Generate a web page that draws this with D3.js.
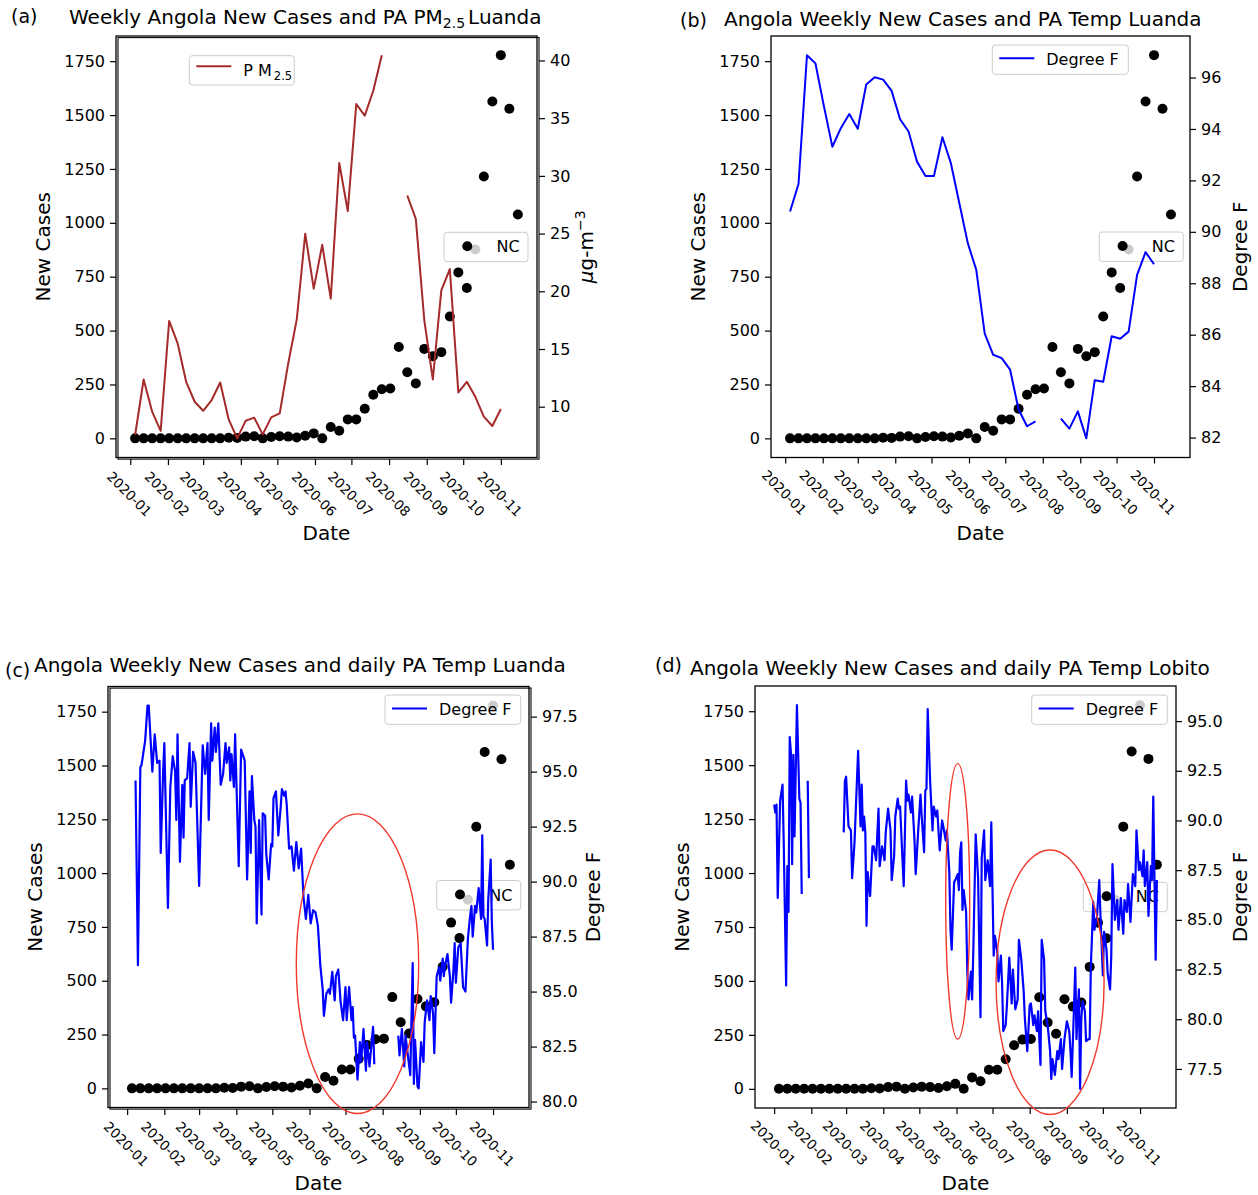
<!DOCTYPE html>
<html>
<head>
<meta charset="utf-8">
<script src="https://cdn.jsdelivr.net/npm/d3@7/dist/d3.min.js"></script>
<style>
body { margin: 0; background: #fff; }
svg text { font-family: "DejaVu Sans", sans-serif; fill: #000; }
</style>
</head>
<body>
<svg id="chart" width="1258" height="1195"></svg>
<script>
// weekly Angola new cases, one value per week (Sundays 2020-01-05 .. 2020-11-15)
var newCases = [0, 0, 0, 0, 0, 0, 0, 0, 0, 0, 0, 3, 2, 8, 10, 0, 6, 10, 8, 4, 12, 23, 0,
    53, 35, 88, 88, 137, 202, 228, 231, 424, 307, 255, 415, 381, 400, 565, 770, 698,
    876, 1215, 1563, 1778, 1529, 1039];

// weekly PurpleAir PM2.5 Luanda (ug/m3), same weeks, null = no reading
var pm25Luanda = [7.55, 12.36, 9.57, 7.9, 17.43, 15.48, 12.16, 10.43, 9.65, 10.58, 12.1,
    8.9, 7.26, 8.79, 9.05, 7.6, 9.08, 9.42, 13.75, 17.55, 24.99, 20.23, 24.03, 19.37,
    31.12, 26.95, 36.22, 35.22, 37.38, 40.46, null, null, 28.3, 26.28, 17.49, 12.36,
    20.09, 21.93, 11.24, 12.16, 10.86, 9.14, 8.33, 9.8, null, null];

// weekly PurpleAir temperature Luanda (degree F)
var tempWeeklyLuanda = [90.79, 91.86, 96.87, 96.55, 94.89, 93.31, 94.03, 94.58, 94.01,
    95.73, 96.01, 95.92, 95.48, 94.38, 93.9, 92.73, 92.17, 92.17, 93.68, 92.67, 91.11,
    89.56, 88.52, 86.04, 85.22, 85.09, 84.64, 83.09, 82.44, 82.63, null, null, 82.74,
    82.35, 83.02, 81.97, 84.23, 84.17, 85.94, 85.84, 86.12, 88.33, 89.21, 88.74, null, null];

// daily PurpleAir temperature: [day counted from 2020-01-01, degree F], null = gap
var tempDailyLuanda = [[7, 94.6], [9, 86.2], [11, 95.2], [12, 95.3], [15, 96.4], [17, 98.0],
    [18, 98.0], [21, 95.0], [23, 96.7], [25, 95.4], [27, 95.5], [28, 91.3], [30, 95.0],
    [31, 96.3], [34, 88.8], [36, 94.3], [38, 95.7], [40, 95.0], [41, 92.8], [42, 96.7],
    [44, 90.9], [46, 94.4], [47, 92.0], [48, 94.6], [50, 94.7], [52, 96.3], [53, 93.4],
    [55, 95.9], [57, 95.4], [60, 89.8], [63, 96.2], [65, 94.9], [67, 96.3], [68, 92.8],
    [70, 97.2], [71, 95.5], [73, 97.0], [74, 95.9], [76, 97.2], [78, 94.4], [80, 94.9],
    [82, 96.3], [83, 95.4], [85, 96.1], [86, 94.6], [87, 95.8], [89, 94.3], [90, 96.7],
    [93, 90.7], [95, 96.0], [98, 95.5], [100, 90.1], [102, 94.1], [103, 91.3], [104, 94.8],
    [106, 92.8], [107, 92.5], [108, 88.1], [110, 92.8], [112, 88.5], [113, 93.1], [115, 93.0],
    [116, 91.2], [118, 90.1], [120, 91.7], [121, 91.6], [122, 93.8], [124, 94.1], [126, 92.1],
    [128, 93.4], [129, 94.2], [131, 93.9], [132, 94.1], [133, 93.5], [135, 91.5], [137, 91.6],
    [139, 90.5], [141, 91.8], [143, 90.6], [145, 91.5], [147, 89.3], [149, 88.3], [151, 89.4],
    [153, 88.1], [155, 88.7], [157, 88.6], [159, 88.0], [161, 86.2], [163, 85.1], [164, 83.9],
    [166, 84.9], [168, 85.1], [169, 84.9], [171, 85.9], [173, 84.6], [174, 85.7], [176, 86.0],
    [178, 84.5], [180, 83.7], [182, 85.2], [183, 83.7], [185, 85.2], [187, 83.7], [188, 84.3],
    [189, 82.9], [190, 83.0], [192, 81.0], [194, 82.7], [195, 81.8], [197, 83.3], [199, 81.4],
    [200, 82.7], [202, 81.6], [205, 83.4], [206, 81.7], [215, null], [226, 83.0], [227, 82.1],
    [229, 83.3], [231, 81.6], [232, 83.0], [234, 82.1], [236, 81.2], [238, 86.3], [239, 80.8],
    [240, 82.8], [242, 80.7], [243, 80.6], [245, 82.7], [247, 81.8], [248, 83.6], [250, 84.6],
    [252, 83.7], [253, 84.8], [255, 84.0], [256, 82.2], [258, 85.7], [260, 86.1], [261, 85.5],
    [263, 86.5], [264, 85.7], [265, 86.2], [267, 86.7], [269, 85.7], [270, 84.5], [272, 86.0],
    [273, 87.2], [274, 85.4], [276, 87.0], [278, 87.2], [280, 85.2], [282, 85.0], [284, 87.4],
    [286, 88.5], [287, 88.9], [288, 87.5], [290, 88.9], [291, 88.6], [293, 89.7], [295, 88.3],
    [296, 92.1], [297, 88.4], [298, 88.3], [300, 87.1], [301, 89.2], [303, 91.0], [304, 88.1],
    [305, 86.9]];

var tempDailyLobito = [[0, 90.8], [1, 90.4], [2, 90.8], [3, 86.1], [5, 91.0], [7, 91.8],
    [8, 88.9], [10, 81.7], [11, 87.7], [12, 85.4], [13, 94.2], [14, 93.4], [15, 87.8],
    [16, 93.3], [17, 89.2], [19, 95.8], [21, 91.1], [22, 90.9], [23, 86.3], [24, null],
    [28, 92.0], [29, 87.1], [30, null], [58, 89.4], [59, 92.0], [60, 92.2], [62, 89.7],
    [64, 89.5], [65, 87.1], [67, 88.9], [69, 92.0], [70, 93.5], [72, 89.7], [73, 91.8],
    [74, 89.5], [75, 90.2], [76, 89.4], [77, 84.7], [78, 87.4], [79, 86.7], [80, 86.2],
    [82, 88.7], [83, 88.7], [85, 88.0], [87, 90.6], [88, 87.7], [90, 88.7], [92, 88.0],
    [93, 89.4], [95, 90.6], [97, 89.5], [98, 87.0], [100, 88.2], [101, 90.2], [103, 91.1],
    [104, 90.6], [105, 90.7], [107, 88.0], [108, 86.7], [110, 92.0], [111, 91.0], [112, 91.3],
    [114, 90.4], [115, 91.2], [117, 89.0], [118, 87.3], [120, 89.4], [122, 91.3], [123, 90.2],
    [125, 88.4], [126, 91.5], [127, 91.6], [128, 95.6], [130, 92.0], [132, 89.5], [133, 90.7],
    [135, 90.2], [136, 90.5], [138, 88.5], [140, 90.0], [141, 89.7], [143, 89.0], [144, 89.5],
    [146, 87.4], [147, 84.5], [148, 83.5], [150, 86.9], [151, 87.0], [153, 87.3], [154, 86.5],
    [155, 88.4], [156, 88.9], [157, 85.5], [158, 86.5], [160, 85.4], [161, 82.4], [162, 81.0],
    [164, 82.4], [165, 81.0], [166, 83.4], [168, 89.3], [170, 87.1], [172, 80.1], [173, 88.1],
    [175, 89.5], [176, 87.0], [178, 88.0], [180, 86.7], [181, 89.9], [183, 83.2], [184, 84.2],
    [186, 83.4], [187, 81.9], [189, 83.2], [190, 81.8], [191, 79.4], [193, 79.7], [194, 80.7],
    [196, 83.1], [198, 80.8], [199, 82.5], [201, 80.5], [203, 81.0], [204, 84.0], [206, 83.0],
    [208, 81.4], [209, 80.0], [211, 78.4], [213, 80.7], [214, 80.8], [216, 79.7], [217, 80.2],
    [219, 79.4], [220, 80.4], [222, 77.7], [223, 84.0], [225, 83.0], [226, 80.4], [228, 79.7],
    [230, 78.4], [231, 77.0], [232, 78.0], [234, 77.2], [236, 78.4], [237, 78.0], [239, 79.0],
    [240, 77.5], [242, 79.0], [244, 79.9], [246, 79.4], [247, 78.4], [248, 77.1], [250, 80.7],
    [251, 82.6], [252, 79.0], [254, 81.5], [255, 76.5], [256, 80.0], [257, 80.9], [259, 80.4],
    [260, 78.9], [262, 79.0], [263, 79.0], [264, 82.7], [266, 85.9], [267, 84.5], [269, 85.1],
    [271, 87.0], [272, 85.2], [274, 82.2], [275, 84.4], [277, 83.5], [278, 82.3], [280, 81.5],
    [281, 83.2], [282, 87.8], [284, 85.0], [286, 86.0], [287, 84.5], [289, 86.1], [291, 84.3],
    [292, 86.0], [294, 85.4], [295, 86.8], [297, 84.9], [299, 87.3], [301, 86.7], [302, 89.5],
    [304, 87.5], [305, 87.9], [307, 87.2], [308, 88.5], [309, 86.7], [311, 87.9], [312, 85.2],
    [314, 87.7], [315, 87.0], [316, 91.2], [318, 83.0], [319, 87.0]];

var monthTicks = ["2020-01", "2020-02", "2020-03", "2020-04", "2020-05", "2020-06",
    "2020-07", "2020-08", "2020-09", "2020-10", "2020-11"];
var caseTicks = [0, 250, 500, 750, 1000, 1250, 1500, 1750];
var pmTicks = [10, 15, 20, 25, 30, 35, 40];
var tempTicksB = [82, 84, 86, 88, 90, 92, 94, 96];
var tempTicksC = [80, 82.5, 85, 87.5, 90, 92.5, 95, 97.5];
var tempTicksD = [77.5, 80, 82.5, 85, 87.5, 90, 92.5, 95];

// red circled periods: [center day, center cases, half width days, half height cases]
var ringsC = [[192, 579, 51, 696]];
var ringsD = [[153, 869, 10, 638], [230, 494, 45, 613]];

var svg = d3.select('#chart');
var jan1 = new Date(2020, 0, 1);
var weeks = d3.timeWeek.range(new Date(2020, 0, 5), new Date(2020, 10, 16));
var dailySpan = [jan1, new Date(2020, 10, 15)];
var parseMonth = d3.timeParse('%Y-%m');

function pad(ext) {
    var a = +ext[0], b = +ext[1], m = (b - a) * 0.05;
    return [a - m, b + m];
}

function weekly(vals) {
    return weeks.map(function(d, i) { return [d, vals[i]]; });
}

function daily(pairs) {
    return pairs.map(function(p) { return [d3.timeDay.offset(jan1, p[0]), p[1]]; });
}

function legendBox(g, x, y, w, h) {
    g.append('rect')
        .attr('x', x).attr('y', y).attr('width', w).attr('height', h)
        .attr('rx', 3)
        .attr('fill', '#fff').attr('fill-opacity', 0.8)
        .attr('stroke', '#cccccc').attr('stroke-width', 1);
}

function drawPanel(p) {
    var g = svg.append('g');
    var x = d3.scaleTime()
        .domain(pad(p.xSpan).map(function(t) { return new Date(t); }))
        .range([p.left, p.right]);
    var yL = d3.scaleLinear().domain(pad(d3.extent(newCases))).range([p.bottom, p.top]);
    var yR = d3.scaleLinear()
        .domain(pad(d3.extent(p.series, function(d) { return d[1]; })))
        .range([p.bottom, p.top]);

    // frame (twin axes give a slightly doubled edge on some panels)
    g.append('rect')
        .attr('x', p.left).attr('y', p.top)
        .attr('width', p.right - p.left).attr('height', p.bottom - p.top)
        .attr('fill', 'none').attr('stroke', '#000').attr('stroke-width', 1.3);
    if (p.doubled) {
        g.append('rect')
            .attr('x', p.left + 2).attr('y', p.top + 1.6)
            .attr('width', p.right - p.left).attr('height', p.bottom - p.top)
            .attr('fill', 'none').attr('stroke', '#000').attr('stroke-width', 1.1);
    }

    var xAxis = g.append('g')
        .attr('transform', 'translate(0,' + (p.bottom + (p.doubled ? 1.6 : 0)) + ')')
        .call(d3.axisBottom(x)
            .tickValues(monthTicks.map(parseMonth))
            .tickFormat(d3.timeFormat('%Y-%m'))
            .tickSize(6));
    xAxis.select('.domain').remove();
    xAxis.selectAll('line').attr('stroke-width', 1.2);
    xAxis.selectAll('text')
        .attr('font-size', 13.5).attr('font-family', 'DejaVu Sans')
        .attr('y', 0).attr('dy', '0.35em')
        .attr('text-anchor', 'middle')
        .attr('transform', 'translate(-1.5,35) rotate(45)');

    var leftAxis = g.append('g')
        .attr('transform', 'translate(' + p.left + ',0)')
        .call(d3.axisLeft(yL).tickValues(caseTicks).tickFormat(d3.format('d'))
            .tickSize(6).tickPadding(5));
    leftAxis.select('.domain').remove();
    leftAxis.selectAll('line').attr('stroke-width', 1.2);
    leftAxis.selectAll('text').attr('font-size', 16).attr('font-family', 'DejaVu Sans');

    var rightEdge = p.right + (p.doubled ? 2 : 0);
    var rightAxis = g.append('g')
        .attr('transform', 'translate(' + rightEdge + ',0)')
        .call(d3.axisRight(yR).tickValues(p.rTicks).tickFormat(p.rFormat).tickSize(6).tickPadding(5));
    rightAxis.select('.domain').remove();
    rightAxis.selectAll('line').attr('stroke-width', 1.2);
    rightAxis.selectAll('text').attr('font-size', 16).attr('font-family', 'DejaVu Sans');

    // new cases scatter (first axes)
    g.append('g').selectAll('circle')
        .data(weekly(newCases))
        .enter()
        .append('circle')
        .attr('cx', function(d) { return x(d[0]); })
        .attr('cy', function(d) { return yL(d[1]); })
        .attr('r', 5)
        .attr('fill', '#000');

    var nl = p.ncLegend;
    legendBox(g, p.left + nl[0], p.top + nl[1], 84, 29.4);
    g.append('circle')
        .attr('cx', p.left + nl[0] + 23.3).attr('cy', p.top + nl[1] + 14)
        .attr('r', 5).attr('fill', '#000');
    g.append('text')
        .attr('x', p.left + nl[0] + 52.5).attr('y', p.top + nl[1] + 20)
        .attr('font-size', 16).text('NC');

    // second axes: line series
    var line = d3.line()
        .defined(function(d) { return d[1] != null; })
        .x(function(d) { return x(d[0]); })
        .y(function(d) { return yR(d[1]); });
    g.append('path')
        .datum(p.series)
        .attr('d', line)
        .attr('fill', 'none')
        .attr('stroke', p.color)
        .attr('stroke-width', p.lineWidth)
        .attr('stroke-linejoin', 'round');

    var ll = p.lineLegend;
    legendBox(g, p.left + ll[0], p.top + ll[1], ll[2], 29.3);
    g.append('line')
        .attr('x1', p.left + ll[0] + 7).attr('x2', p.left + ll[0] + 42)
        .attr('y1', p.top + ll[1] + ll[3]).attr('y2', p.top + ll[1] + ll[3])
        .attr('stroke', p.color).attr('stroke-width', 2);
    var lt = g.append('text')
        .attr('x', p.left + ll[0] + 54).attr('y', p.top + ll[1] + 20)
        .attr('font-size', 16);
    p.legendText(lt);

    (p.rings || []).forEach(function(r) {
        var c = d3.timeDay.offset(jan1, r[0]);
        g.append('ellipse')
            .attr('cx', x(c)).attr('cy', yL(r[1]))
            .attr('rx', x(d3.timeDay.offset(c, r[2])) - x(c))
            .attr('ry', yL(0) - yL(r[3]))
            .attr('fill', 'none')
            .attr('stroke', '#f0392b')
            .attr('stroke-width', 1.4);
    });

    // labels
    g.append('text')
        .attr('x', (p.left + p.right) / 2).attr('y', p.bottom + 82)
        .attr('text-anchor', 'middle').attr('font-size', 20).text('Date');
    g.append('text')
        .attr('transform', 'translate(' + (p.left - 66) + ',' + ((p.top + p.bottom) / 2) + ') rotate(-90)')
        .attr('text-anchor', 'middle').attr('font-size', 20).text('New Cases');
    var rl = g.append('text')
        .attr('transform', 'translate(' + (p.right + p.rLabelOff) + ',' + ((p.top + p.bottom) / 2) + ') rotate(-90)')
        .attr('text-anchor', 'middle').attr('font-size', 20);
    p.rLabel(rl);

    g.append('text')
        .attr('x', p.tag[0]).attr('y', p.tag[1])
        .attr('font-size', 19).text(p.tagText);
    var tt = g.append('text')
        .attr('x', p.title[0]).attr('y', p.title[1])
        .attr('font-size', 20);
    p.titleText(tt);
}

var fmt1 = d3.format('.1f');

drawPanel({
    left: 116, right: 537, top: 36, bottom: 457.5, doubled: true,
    xSpan: [weeks[0], weeks[weeks.length - 1]],
    series: weekly(pm25Luanda), color: '#a52a2a', lineWidth: 2,
    rTicks: pmTicks, rFormat: d3.format('d'), rLabelOff: 56,
    ncLegend: [328, 196.3], lineLegend: [73.3, 19.7, 105, 10.5],
    legendText: function(t) {
        t.append('tspan').text('P M');
        t.append('tspan').attr('font-size', 11.5).attr('dy', 4).attr('dx', 2).text('2.5');
    },
    rLabel: function(t) {
        t.append('tspan').attr('font-style', 'italic').text('μ');
        t.append('tspan').text('g-m');
        t.append('tspan').attr('font-size', 14).attr('dy', -8).text('−3');
    },
    tag: [11, 23], tagText: '(a)',
    title: [69, 24],
    titleText: function(t) {
        t.append('tspan').text('Weekly Angola New Cases and PA PM');
        t.append('tspan').attr('font-size', 14).attr('dy', 4).text('2.5');
        t.append('tspan').attr('dy', -4).attr('dx', 3).text('Luanda');
    }
});

drawPanel({
    left: 771, right: 1190, top: 36, bottom: 457.5, doubled: false,
    xSpan: [weeks[0], weeks[weeks.length - 1]],
    series: weekly(tempWeeklyLuanda), color: '#0000ff', lineWidth: 2,
    rTicks: tempTicksB, rFormat: d3.format('d'), rLabelOff: 57,
    ncLegend: [328.3, 196], lineLegend: [221.3, 9, 136, 13.3],
    legendText: function(t) { t.text('Degree F'); },
    rLabel: function(t) { t.text('Degree F'); },
    tag: [680, 27], tagText: '(b)',
    title: [724, 26],
    titleText: function(t) { t.text('Angola Weekly New Cases and PA Temp Luanda'); }
});

drawPanel({
    left: 108, right: 529, top: 686.5, bottom: 1107.5, doubled: true,
    xSpan: dailySpan,
    series: daily(tempDailyLuanda), color: '#0000ff', lineWidth: 2.2,
    rTicks: tempTicksC, rFormat: fmt1, rLabelOff: 71,
    ncLegend: [328.7, 194], lineLegend: [277, 8.5, 135.7, 13.5],
    legendText: function(t) { t.text('Degree F'); },
    rLabel: function(t) { t.text('Degree F'); },
    rings: ringsC,
    tag: [5, 677], tagText: '(c)',
    title: [34, 672],
    titleText: function(t) { t.text('Angola Weekly New Cases and daily PA Temp  Luanda'); }
});

drawPanel({
    left: 755, right: 1176, top: 686, bottom: 1108, doubled: false,
    xSpan: dailySpan,
    series: daily(tempDailyLobito), color: '#0000ff', lineWidth: 2.2,
    rTicks: tempTicksD, rFormat: fmt1, rLabelOff: 71,
    ncLegend: [328.3, 196.3], lineLegend: [276.7, 9, 135.6, 13.5],
    legendText: function(t) { t.text('Degree F'); },
    rLabel: function(t) { t.text('Degree F'); },
    rings: ringsD,
    tag: [655, 672], tagText: '(d)',
    title: [690, 675],
    titleText: function(t) { t.text('Angola Weekly New Cases and daily PA Temp Lobito'); }
});
</script>
</body>
</html>
